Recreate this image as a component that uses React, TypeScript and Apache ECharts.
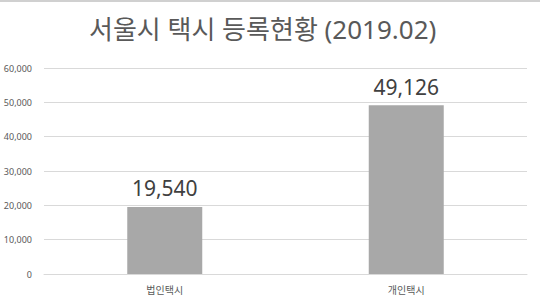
import React, { useEffect, useRef } from "react";
import * as echarts from "echarts";

const categories = ["법인택시", "개인택시"];
const values = [19540, 49126];
const titleText = "서울시 택시 등록현황 (2019.02)";

export default function App() {
  const ref = useRef<HTMLDivElement>(null);
  useEffect(() => {
    if (!ref.current) return;
    const chart = echarts.init(ref.current, null, { renderer: "svg" });
    const font = "'Noto Sans', 'Noto Sans CJK KR', sans-serif";
    chart.setOption({
      animation: false,
      backgroundColor: "#ffffff",
      title: {
        text: titleText,
        left: 84,
        top: 11,
        textStyle: { fontFamily: font, fontSize: 26, fontWeight: "normal", color: "#595959" },
      },
      graphic: [
        { type: "rect", shape: { x: 0, y: 0, width: 540, height: 2 }, style: { fill: "#d0d0d0" } },
      ],
      grid: { left: 44, right: 13, top: 68, bottom: 31, containLabel: false },
      xAxis: {
        type: "category",
        data: categories,
        axisLine: { lineStyle: { color: "#d9d9d9" } },
        axisTick: { show: false },
        axisLabel: { color: "#595959", fontSize: 10, fontFamily: font, margin: 11 },
      },
      yAxis: {
        type: "value",
        min: 0,
        max: 60000,
        interval: 10000,
        axisLine: { show: false },
        axisTick: { show: false },
        splitLine: { lineStyle: { color: "#d9d9d9" } },
        axisLabel: {
          color: "#595959",
          fontSize: 9,
          fontFamily: font,
          margin: 12,
          formatter: (v: number) => v.toLocaleString("en-US"),
        },
      },
      series: [
        {
          type: "bar",
          data: values,
          barWidth: 75,
          itemStyle: { color: "#a8a8a8" },
          label: {
            show: true,
            position: "top",
            distance: 8,
            color: "#404040",
            fontSize: 21,
            fontFamily: font,
            formatter: (p: any) => Number(p.value).toLocaleString("en-US"),
          },
        },
      ],
    });
    return () => chart.dispose();
  }, []);
  return (
    <div
      ref={ref}
      style={{ position: "fixed", left: 0, top: 0, width: 540, height: 305 }}
    />
  );
}
